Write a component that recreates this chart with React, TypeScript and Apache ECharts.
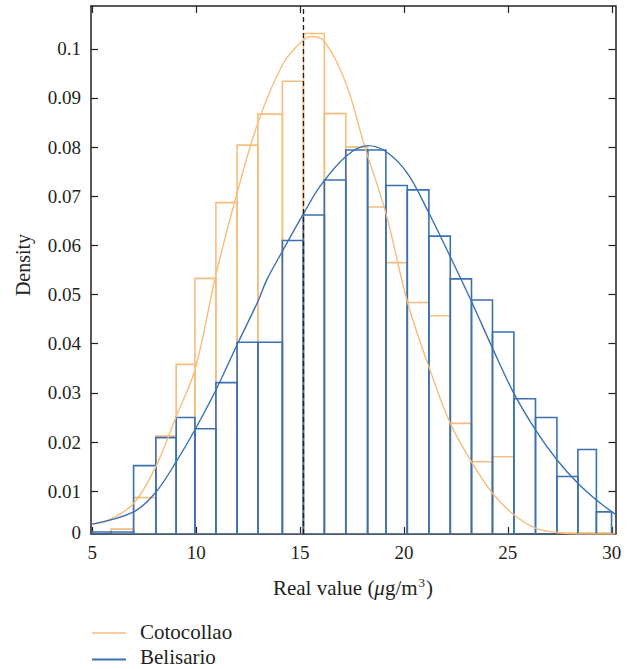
import React, { useEffect, useRef } from "react";
import * as echarts from "echarts";

// ---- data ----
const binEdges = [5, 5.9, 6.99, 8.06, 9.04, 9.94, 10.95, 11.97, 12.97, 14.15, 15.16, 16.17, 17.2, 18.25, 19.13, 20.16, 21.2, 22.23, 23.25, 24.26, 25.29, 26.33, 27.36, 28.37, 29.26, 29.99];
const cotocollaoDensity = [0, 0.0023, 0.0087, 0.0212, 0.0358, 0.0533, 0.0687, 0.0804, 0.0867, 0.0934, 0.1031, 0.0868, 0.08, 0.0678, 0.0565, 0.0484, 0.0457, 0.0238, 0.016, 0.017, 0, 0, 0.0015, 0.0015, 0.0015];
const belisarioDensity = [0.0017, 0.0017, 0.0152, 0.0209, 0.025, 0.0227, 0.0321, 0.0403, 0.0403, 0.061, 0.0662, 0.0733, 0.0794, 0.0794, 0.0722, 0.0713, 0.0619, 0.0532, 0.0489, 0.0424, 0.0288, 0.025, 0.013, 0.0185, 0.0058];

const cotocollaoFitX = [5.0, 5.87, 6.99, 8.06, 9.04, 9.94, 10.95, 11.88, 12.97, 14.2, 15.16, 15.56, 16.17, 17.2, 18.12, 19.13, 20.16, 21.2, 22.23, 23.25, 24.26, 25.29, 26.33, 27.36, 28.4, 30.18];
const cotocollaoFitY = [0.0033, 0.0043, 0.0075, 0.015, 0.0252, 0.0347, 0.054, 0.0693, 0.0849, 0.0971, 0.1018, 0.1025, 0.1015, 0.0931, 0.08, 0.0666, 0.0486, 0.0353, 0.0238, 0.016, 0.0096, 0.0052, 0.0025, 0.0016, 0.0013, 0.0013];

const belisarioFitX = [5.0, 6.99, 8.06, 9.04, 9.94, 10.95, 11.97, 12.97, 13.4, 14.15, 15.16, 15.96, 17.2, 18.25, 19.13, 20.16, 21.2, 22.23, 23.25, 24.26, 25.29, 26.33, 27.36, 28.37, 29.26, 30.18];
const belisarioFitY = [0.0033, 0.0058, 0.0098, 0.016, 0.0225, 0.0306, 0.0398, 0.0486, 0.053, 0.0588, 0.0664, 0.072, 0.0781, 0.0803, 0.0791, 0.0747, 0.0666, 0.0577, 0.0486, 0.0391, 0.0299, 0.0225, 0.0164, 0.0116, 0.0082, 0.0053];

const limitValue = 15.14;
const xTickValues = [5, 10, 15, 20, 25, 30];
const yTickValues = [0.01, 0.02, 0.03, 0.04, 0.05, 0.06, 0.07, 0.08, 0.09, 0.1];
const yLabelValues = [0.0017, 0.01, 0.02, 0.03, 0.04, 0.05, 0.06, 0.07, 0.08, 0.09, 0.1];
const seriesNames = ["Cotocollao", "Belisario"];

// ---- styling ----
const X_MIN = 4.94;
const X_MAX = 30.18;
const Y_MIN = 0.0013;
const Y_MAX = 0.1087;
const ORANGE = "#F6BD7C";
const BLUE = "#3A71B3";
const INK = "#231F20";
const FONT = "Liberation Serif";

function histData(values: number[]) {
  return values.map((v, i) => [binEdges[i], binEdges[i + 1], v]);
}

function histRender(color: string) {
  return (params: any, api: any) => {
    const x0 = api.value(0);
    const x1 = api.value(1);
    const v = api.value(2);
    if (!(v > Y_MIN)) return { type: "group", children: [] };
    const p0 = api.coord([x0, v]);
    const p1 = api.coord([x1, Y_MIN]);
    return {
      type: "rect",
      shape: { x: p0[0], y: p0[1], width: p1[0] - p0[0], height: p1[1] - p0[1] },
      style: { fill: "none", stroke: color, lineWidth: 1.6 },
    };
  };
}

export default function App() {
  const ref = useRef<HTMLDivElement>(null);
  useEffect(() => {
    if (!ref.current) return;
    const chart = echarts.init(ref.current, undefined, { renderer: "svg" });
    const axisLineStyle = { color: INK, width: 1.5 };
    const option: any = {
      animation: false,
      textStyle: { fontFamily: FONT },
      grid: { left: 91, right: 21.5, top: 6, bottom: 135 },
      xAxis: [
        {
          type: "value",
          min: X_MIN,
          max: X_MAX,
          position: "bottom",
          axisLine: { show: true, onZero: false, lineStyle: axisLineStyle },
          axisTick: { show: true, inside: true, length: 7, customValues: xTickValues, lineStyle: { color: INK, width: 1.2 } },
          axisLabel: { show: true, customValues: xTickValues, fontSize: 19, color: INK, margin: 9, fontFamily: FONT },
          splitLine: { show: false },
        },
        {
          type: "value",
          min: X_MIN,
          max: X_MAX,
          position: "top",
          axisLine: { show: true, onZero: false, lineStyle: axisLineStyle },
          axisTick: { show: true, inside: true, length: 7, customValues: xTickValues, lineStyle: { color: INK, width: 1.2 } },
          axisLabel: { show: false },
          splitLine: { show: false },
        },
      ],
      yAxis: [
        {
          type: "value",
          min: Y_MIN,
          max: Y_MAX,
          position: "left",
          axisLine: { show: true, onZero: false, lineStyle: axisLineStyle },
          axisTick: { show: true, inside: true, length: 7, customValues: yTickValues, lineStyle: { color: INK, width: 1.2 } },
          axisLabel: {
            show: true,
            customValues: yLabelValues,
            fontSize: 19,
            color: INK,
            margin: 10,
            fontFamily: FONT,
            formatter: (v: number) => (v < 0.005 ? "0" : String(Math.round(v * 100) / 100)),
          },
          splitLine: { show: false },
        },
        {
          type: "value",
          min: Y_MIN,
          max: Y_MAX,
          position: "right",
          axisLine: { show: true, onZero: false, lineStyle: axisLineStyle },
          axisTick: { show: true, inside: true, length: 7, customValues: yTickValues, lineStyle: { color: INK, width: 1.2 } },
          axisLabel: { show: false },
          splitLine: { show: false },
        },
      ],
      series: [
        {
          name: seriesNames[0] + " histogram",
          type: "custom",
          renderItem: histRender(ORANGE),
          data: histData(cotocollaoDensity),
          encode: { x: [0, 1], y: 2 },
          clip: true,
          z: 1,
        },
        {
          name: seriesNames[1] + " histogram",
          type: "custom",
          renderItem: histRender(BLUE),
          data: histData(belisarioDensity),
          encode: { x: [0, 1], y: 2 },
          clip: true,
          z: 2,
        },
        {
          name: seriesNames[0],
          type: "line",
          smooth: 0.35,
          showSymbol: false,
          clip: true,
          data: cotocollaoFitX.map((x, i) => [x, cotocollaoFitY[i]]),
          lineStyle: { color: ORANGE, width: 1.4 },
          itemStyle: { color: ORANGE },
          z: 3,
        },
        {
          name: seriesNames[1],
          type: "line",
          smooth: 0.35,
          showSymbol: false,
          clip: true,
          data: belisarioFitX.map((x, i) => [x, belisarioFitY[i]]),
          lineStyle: { color: BLUE, width: 1.4 },
          itemStyle: { color: BLUE },
          z: 4,
          markLine: {
            silent: true,
            symbol: ["none", "none"],
            label: { show: false },
            lineStyle: { color: INK, type: [5, 3], width: 1.3 },
            data: [{ xAxis: limitValue }],
          },
        },
      ],
      graphic: [
        {
          type: "text",
          x: 23,
          y: 265,
          rotation: Math.PI / 2,
          style: { text: "Density", fontSize: 20, fontFamily: FONT, fill: INK, align: "center", verticalAlign: "middle" },
        },
        {
          type: "text",
          x: 353,
          y: 588,
          style: {
            text: "{a|Real value (}{i|μ}{a|g/m}{s|3}{a|)}",
            align: "center",
            verticalAlign: "middle",
            rich: {
              a: { fontSize: 21, fontFamily: FONT, fill: INK, lineHeight: 24 },
              i: { fontSize: 21, fontFamily: FONT, fontStyle: "italic", fill: INK, lineHeight: 24 },
              s: { fontSize: 13, fontFamily: FONT, fill: INK, verticalAlign: "top", lineHeight: 24, padding: [0, 1, 0, 1] },
            },
          },
        },
        { type: "line", shape: { x1: 92, y1: 633, x2: 126, y2: 633 }, style: { stroke: ORANGE, lineWidth: 1.6 } },
        {
          type: "text",
          x: 140,
          y: 632,
          style: { text: seriesNames[0], fontSize: 21, fontFamily: FONT, fill: INK, align: "left", verticalAlign: "middle" },
        },
        { type: "line", shape: { x1: 92, y1: 659.5, x2: 126, y2: 659.5 }, style: { stroke: BLUE, lineWidth: 1.8 } },
        {
          type: "text",
          x: 140,
          y: 657,
          style: { text: seriesNames[1], fontSize: 21, fontFamily: FONT, fill: INK, align: "left", verticalAlign: "middle" },
        },
      ],
    };
    chart.setOption(option);
    return () => chart.dispose();
  }, []);
  return (
    <div
      ref={ref}
      style={{ position: "fixed", left: 0, top: 0, width: 637, height: 669, background: "#ffffff" }}
    />
  );
}
